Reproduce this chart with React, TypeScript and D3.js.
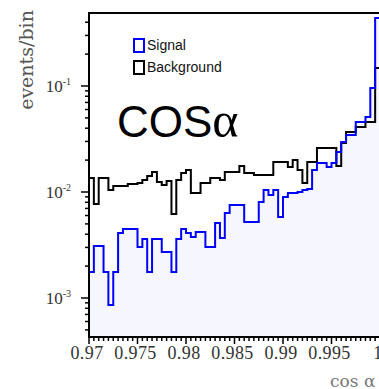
import React from "react";
import * as d3 from "d3";

// Bin edges: 60 bins of width 0.0005 between 0.97 and 1.0
const binLo = 0.97;
const binWidth = 0.0005;

// Normalised entries per bin, signal (Monte Carlo)
const signalValues = [
  0.00176, 0.0031, 0.0031, 0.00176, 0.00086, 0.00176, 0.0041, 0.00448, 0.00448, 0.00448,
  0.00303, 0.0036, 0.00176, 0.0036, 0.0036, 0.00272, 0.00272, 0.00176, 0.0036, 0.00448,
  0.0041, 0.00376, 0.0042, 0.0042, 0.00303, 0.00303, 0.0051, 0.00368, 0.00634, 0.00754,
  0.00754, 0.00754, 0.00521, 0.00521, 0.00521, 0.00805, 0.01045, 0.00938, 0.01045, 0.00581,
  0.00898, 0.00979, 0.00979, 0.01, 0.01045, 0.01067, 0.01614, 0.01879, 0.01879, 0.01722,
  0.01879, 0.02384, 0.02963, 0.03451, 0.03451, 0.04571, 0.04571, 0.05101, 0.0958, 0.4385,
];

// Normalised entries per bin, background
const backgroundValues = [
  0.01355, 0.00771, 0.01355, 0.01355, 0.01045, 0.0114, 0.0114, 0.0114, 0.01189, 0.01189,
  0.01216, 0.01298, 0.01416, 0.01545, 0.01242, 0.01164, 0.0127, 0.0062, 0.01298, 0.01511,
  0.01614, 0.00979, 0.00979, 0.01216, 0.01216, 0.01355, 0.01355, 0.01298, 0.01545, 0.01545,
  0.01545, 0.01758, 0.01511, 0.01511, 0.01446, 0.01446, 0.01446, 0.01446, 0.01919, 0.01919,
  0.01919, 0.01722, 0.02004, 0.01614, 0.01216, 0.01919, 0.01919, 0.02601, 0.02601, 0.02601,
  0.02601, 0.01758, 0.02898, 0.03681, 0.03681, 0.04102, 0.04102, 0.04571, 0.04571, 0.1479,
];

const xTicks = [0.97, 0.975, 0.98, 0.985, 0.99, 0.995, 1.0];
const xTickLabels = ["0.97", "0.975", "0.98", "0.985", "0.99", "0.995", "1"];
const yDecades = [-1, -2, -3];

const legendItems = [
  { label: "Signal", color: "#0000ff" },
  { label: "Background", color: "#000000" },
];

const W = 379;
const H = 389;
const left = 89;
const right = 380;
const top = 13;
const bottom = 337;

const x = d3.scaleLinear().domain([0.97, 1.0]).range([left, right]);
// 106 px per decade: 0.1 at y=86, 0.001 at y=298
const y = d3
  .scaleLog()
  .domain([Math.pow(10, -3 - 39 / 106), Math.pow(10, -1 + 73 / 106)])
  .range([bottom, top]);

function stepPath(values: number[]): string {
  const pts: [number, number][] = [];
  pts.push([x(binLo), bottom]);
  values.forEach((v, i) => {
    const x0 = x(binLo + i * binWidth);
    const x1 = x(binLo + (i + 1) * binWidth);
    pts.push([x0, y(v)]);
    pts.push([x1, y(v)]);
  });
  pts.push([x(binLo + values.length * binWidth), bottom]);
  return d3.line()(pts) ?? "";
}

function stepArea(values: number[]): string {
  return stepPath(values) + "Z";
}

const serif = "'DejaVu Serif', serif";
const tickSerif = "'Liberation Serif', serif";
const sans = "'Liberation Sans', Arial, sans-serif";

export default function App() {
  const [yMin, yMax] = y.domain();
  const minorY: number[] = [];
  for (let e = -4; e <= 0; e++) {
    for (let m = 1; m <= 9; m++) {
      const v = m * Math.pow(10, e);
      if (v >= yMin && v <= yMax) minorY.push(v);
    }
  }
  const minorX = d3.range(0, 61).map((i) => 0.97 + i * 0.0005);

  return (
    <div style={{ position: "absolute", left: 0, top: 0 }}>
      <svg width={W} height={H} style={{ display: "block", background: "#fff" }}>
        <defs>
          <clipPath id="plotArea">
            <rect x={left} y={top} width={right - left} height={bottom - top} />
          </clipPath>
        </defs>

        <g clipPath="url(#plotArea)">
          <path d={stepArea(signalValues)} fill="#f6f6fe" stroke="none" />
          <path d={stepPath(backgroundValues)} fill="none" stroke="#000" strokeWidth={2} />
          <path d={stepPath(signalValues)} fill="none" stroke="#0000ff" strokeWidth={2} />
        </g>

        {/* frame */}
        <path
          d={`M${left},${bottom}V${top}H${right}V${bottom}Z`}
          fill="none"
          stroke="#000"
          strokeWidth={2}
        />

        {/* y axis ticks */}
        {minorY.map((v, i) => {
          const isMajor = Math.abs(Math.log10(v) - Math.round(Math.log10(v))) < 1e-9;
          return (
            <line
              key={"yt" + i}
              x1={left - (isMajor ? 8 : 4)}
              x2={left}
              y1={y(v)}
              y2={y(v)}
              stroke="#000"
              strokeWidth={1.5}
            />
          );
        })}
        {yDecades.map((e) => (
          <text
            key={"yl" + e}
            x={71}
            y={y(Math.pow(10, e)) + 6}
            textAnchor="end"
            fontFamily={tickSerif}
            fontSize={17}
            fill="#333"
          >
            10
            <tspan dy={-7} fontSize={10}>
              {"-" + Math.abs(e)}
            </tspan>
          </text>
        ))}

        {/* x axis ticks */}
        {minorX.map((v, i) => {
          const isMajor = i % 10 === 0;
          return (
            <line
              key={"xt" + i}
              x1={x(v)}
              x2={x(v)}
              y1={bottom}
              y2={bottom + (isMajor ? 7 : 4)}
              stroke="#000"
              strokeWidth={1.5}
            />
          );
        })}
        {xTicks.map((v, i) => (
          <text
            key={"xl" + i}
            x={x(v) - 2}
            y={359}
            textAnchor="middle"
            fontFamily={tickSerif}
            fontSize={18}
            letterSpacing={0.4}
            fill="#333"
          >
            {xTickLabels[i]}
          </text>
        ))}

        {/* axis titles */}
        <text
          transform="translate(33,60) rotate(-90)"
          textAnchor="middle"
          fontFamily={serif}
          fontSize={19}
          fill="#555"
        >
          events/bin
        </text>
        <text x={330} y={387} fontFamily={serif} fontSize={17} fill="#777">
          cos α
        </text>

        {/* legend */}
        {legendItems.map((item, i) => (
          <g key={item.label} transform={`translate(134,${39 + i * 22})`}>
            <rect x={0} y={0} width={10} height={13} fill="#fff" stroke={item.color} strokeWidth={2} />
            <text x={13} y={11} fontFamily={sans} fontSize={14} fill="#111">
              {item.label}
            </text>
          </g>
        ))}

        {/* big annotation */}
        <text x={117} y={137} fontFamily={sans} fontSize={44} fill="#000">
          COS
          <tspan fontFamily="'Liberation Serif', serif" fontSize={50}>
            α
          </tspan>
        </text>
      </svg>
    </div>
  );
}
